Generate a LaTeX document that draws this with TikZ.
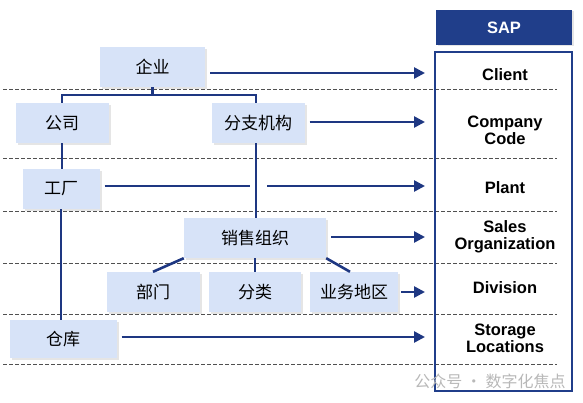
\documentclass[tikz,border=0pt]{standalone}
\usepackage{fontspec}
\setmainfont{Liberation Sans}
\newfontfamily\cjk{Noto Sans CJK SC}
\usetikzlibrary{positioning}
\usetikzlibrary{arrows.meta}
\usetikzlibrary{shadows}
\definecolor{navy}{RGB}{30,55,130}
\definecolor{sapblue}{RGB}{32,62,138}
\definecolor{boxfill}{RGB}{215,227,248}
\definecolor{rulegray}{RGB}{80,80,80}

\begin{document}
\begin{tikzpicture}[x=1pt,y=-1pt,
    org/.style={fill=boxfill, minimum height=40pt, inner sep=0pt,
      font=\cjk\fontsize{17}{20}\selectfont,
      drop shadow={shadow xshift=2pt,shadow yshift=-2pt,fill=black!20}},
    lvl/.style={font=\bfseries\fontsize{16.5}{17}\selectfont, align=center},
    link/.style={draw=navy, line width=2.6pt},
    flow/.style={link, -{Triangle[length=11pt,width=11pt]}, shorten <=5pt},
    sep/.style={draw=rulegray, line width=1pt, dash pattern=on 4pt off 2pt}]
  \useasboundingbox (0,0) rectangle (583,403);

  \foreach \y in {90,159,212,263,314,364}
    \draw[sep] (3,\y) -- (557,\y);

  \node[fill=sapblue, text=white, minimum width=136pt, minimum height=35pt,
    font=\bfseries\fontsize{16.5}{18}\selectfont,
    drop shadow={shadow xshift=1.5pt,shadow yshift=-1.5pt,fill=black!20}] (sap) at (504,27.5) {SAP};
  \node[draw=sapblue, line width=2pt, minimum width=137pt, minimum height=339pt] (col) at (503.5,221.5) {};

  \node[lvl] (lClient) at (505,75) {Client};
  \node[lvl] (lCode) at (505,130) {Company\\Code};
  \node[lvl] (lPlant) at (505,188) {Plant};
  \node[lvl] (lSales) at (505,237) {Sales\\Organization};
  \node[lvl] (lDiv) at (505,288) {Division};
  \node[lvl] (lStore) at (505,338) {Storage\\Locations};

  \node[org, minimum width=105pt] (ent) at (152.5,67) {企业};
  \node[org, minimum width=93pt] (comp) at (62,123) {公司};
  \node[org, minimum width=93pt] (branch) at (258,123) {分支机构};
  \node[org, minimum width=77pt] (plant) at (61,189) {工厂};
  \node[org, minimum width=142pt] (sorg) at (255,238) {销售组织};
  \node[org, minimum width=93pt] (dept) at (153,292) {部门};
  \node[org, minimum width=92pt] (cat) at (255,292) {分类};
  \node[org, minimum width=88pt] (area) at (354,292) {业务地区};
  \node[org, minimum width=107pt, minimum height=38pt] (wh) at (63,339) {仓库};

  \coordinate (bus) at (0,95);
  \coordinate (tClient) at (425,73);
  \coordinate (tCode) at (425,122);
  \coordinate (tPlant) at (425,186);
  \coordinate (tSales) at (425,237);
  \coordinate (tDiv) at (425,292);
  \coordinate (tStore) at (425,337);
  \coordinate (hop) at (256,186);

  \draw[link] (ent.south) -- (ent.south |- bus);
  \draw[link] (comp.north) |- (hop |- bus) -- (hop |- branch.north);
  \draw[link] (comp.south) -- (comp.south |- plant.north);
  \draw[link] (plant.south) -- (plant.south |- wh.north);
  \draw[link] (hop |- branch.south) -- (hop |- sorg.north);
  \draw[link] (sorg.south west) -- (dept.north);
  \draw[link] (sorg.south) -- (cat.north);
  \draw[link] (sorg.south east) -- ([xshift=-4pt]area.north);

  \draw[flow] (ent.east |- tClient) -- (tClient);
  \draw[flow] (branch.east |- tCode) -- (tCode);
  \draw[link, shorten <=5pt] (plant.east |- tPlant) -- ([xshift=-6pt]hop);
  \draw[flow, shorten <=0pt] ([xshift=11pt]hop) -- (tPlant);
  \draw[flow] (sorg.east |- tSales) -- (tSales);
  \draw[flow, shorten <=3pt] (area.east |- tDiv) -- (tDiv);
  \draw[flow] (wh.east |- tStore) -- (tStore);

  \node[text=black!28, font=\cjk\fontsize{16}{18}\selectfont] (mark) at (490,381) {公众号 · 数字化焦点};
\end{tikzpicture}
\end{document}
